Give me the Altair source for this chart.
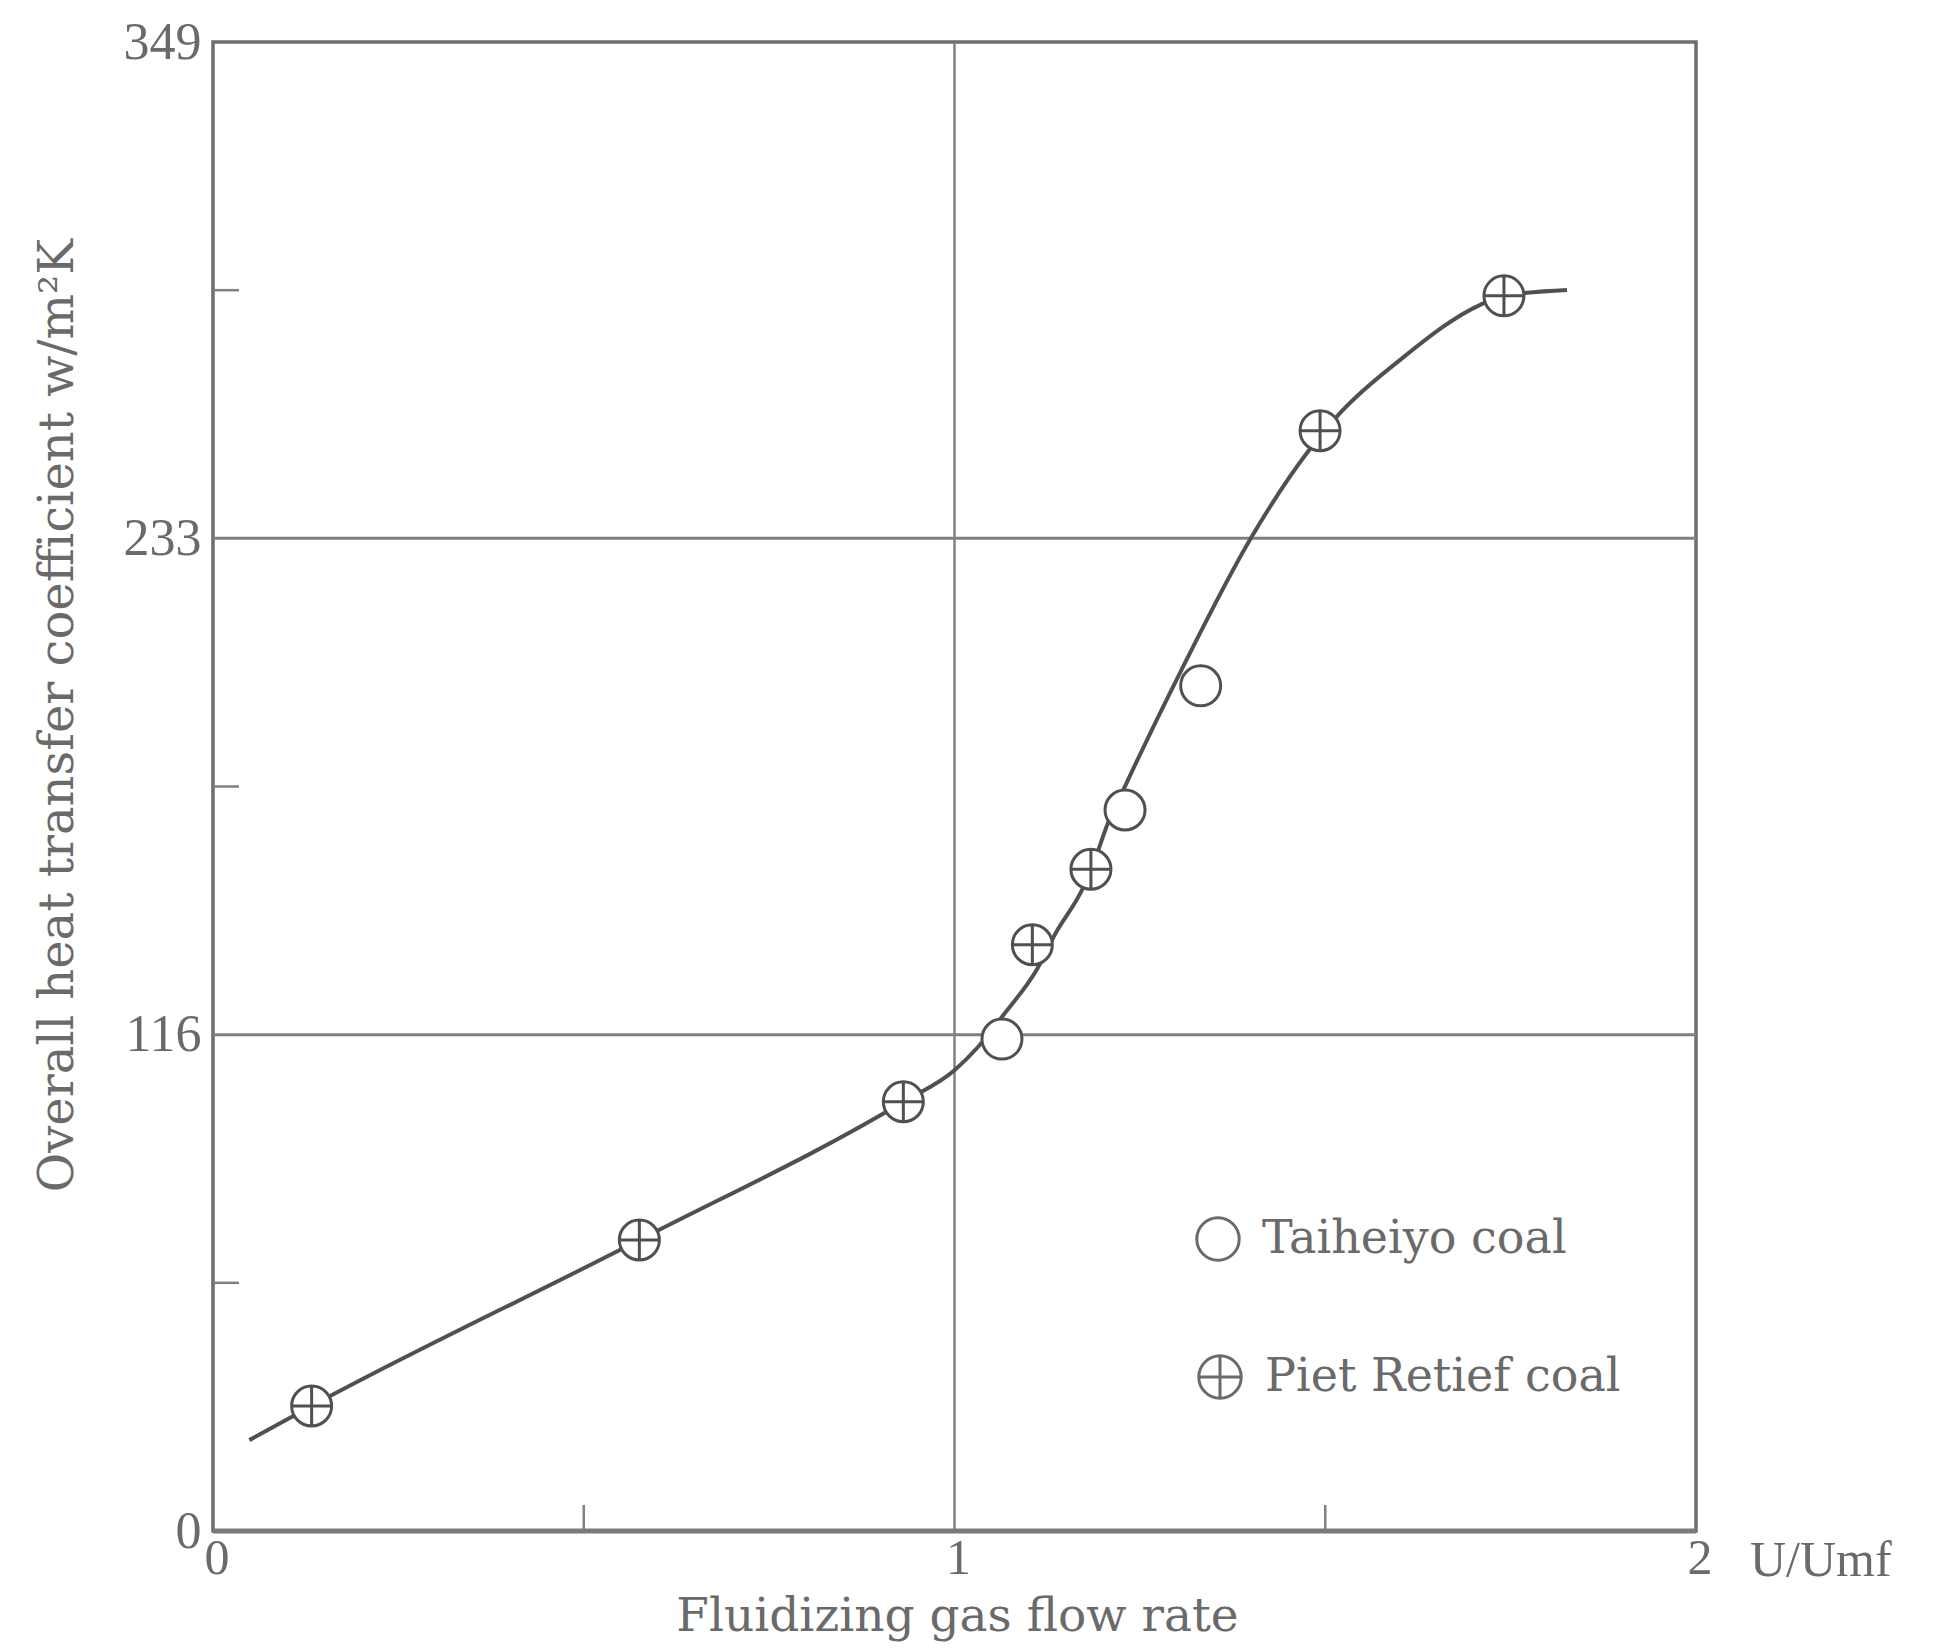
import altair as alt
import pandas as pd

# Data
taiheiyo_x = [1.064, 1.230, 1.332]
taiheiyo_y = [115.3, 169.0, 198.1]
piet_x = [0.133, 0.575, 0.931, 1.105, 1.184, 1.493, 1.741]
piet_y = [29.3, 68.2, 100.6, 137.4, 155.1, 257.9, 289.5]
curve_x = [0.049, 0.133, 0.575, 0.931, 1.000, 1.032, 1.068, 1.110, 1.136, 1.174, 1.194, 1.205,
           1.232, 1.306, 1.401, 1.475, 1.522, 1.601, 1.709, 1.741, 1.826]
curve_y = [21.3, 29.3, 68.2, 100.6, 108.0, 113.5, 121.4, 131.3, 140.0, 151.0, 159.6, 165.1,
           175.3, 201.8, 233.1, 252.6, 262.4, 274.5, 287.4, 289.5, 290.9]
y_major = [0, 116.33, 232.67, 349]
y_minor = [58.17, 174.5, 290.83]
x_labels = [0, 1, 2]
x_label_text = ["0", "1", "2"]
x_minor = [0.5, 1.5]
h_grid = [116.33, 232.67]
v_grid = [1]
legend_names = ["Taiheiyo coal", "Piet Retief coal"]

GRAY = "#6a6a6a"
LINE = "#505050"
GRID = "#808080"
FONT = "Liberation Serif"
TFONT = "DejaVu Serif"
W, H = 1483, 1489

ring = "M -1 0 A 1 1 0 1 1 1 0 A 1 1 0 1 1 -1 0 Z"
ring_cross = ring + " M -1 0 L 1 0 M 0 -1 L 0 1"

taiheiyo = pd.DataFrame({"x": taiheiyo_x, "y": taiheiyo_y})
piet = pd.DataFrame({"x": piet_x, "y": piet_y})
curve = pd.DataFrame({"x": curve_x, "y": curve_y})

xs = alt.Scale(domain=[0, 2], nice=False, zero=False)
ys = alt.Scale(domain=[0, 349], nice=False, zero=False)

xaxis = alt.Axis(values=x_labels, ticks=False, domain=False, grid=False, labels=False,
                 title="Fluidizing gas flow rate", titleFont=TFONT, titleFontSize=47,
                 titleFontWeight="normal", titleColor=GRAY,
                 titleX=744, titleY=99, titleBaseline="alphabetic", titleAlign="center")
yaxis = alt.Axis(values=y_major, ticks=False, domain=False, grid=False,
                 labelOverlap=False,
                 labelExpr="format(round(datum.value), 'd')",
                 labelFont=FONT, labelFontSize=52, labelColor=GRAY, labelPadding=12,
                 labelFlush=False,
                 title="Overall heat transfer coefficient  w/m²K", titleFont=TFONT,
                 titleFontSize=48, titleFontWeight="normal", titleColor=GRAY,
                 titleX=-155, titleY=673, titleBaseline="middle", titleAlign="center",
                 titleAngle=270)

hgrid = alt.Chart(pd.DataFrame({"y": h_grid})).mark_rule(color=GRID, strokeWidth=3).encode(
    y=alt.Y("y:Q", scale=ys, axis=yaxis))
vgrid = alt.Chart(pd.DataFrame({"x": v_grid})).mark_rule(color=GRID, strokeWidth=2.5).encode(
    x=alt.X("x:Q", scale=xs, axis=xaxis))
ytick = alt.Chart(pd.DataFrame({"y": y_minor})).mark_rule(color=GRID, strokeWidth=2.5).encode(
    y=alt.Y("y:Q", scale=ys), x=alt.value(0), x2=alt.value(26))
xtick = alt.Chart(pd.DataFrame({"x": x_minor})).mark_rule(color=GRID, strokeWidth=2.5).encode(
    x=alt.X("x:Q", scale=xs), y=alt.value(H), y2=alt.value(H - 26))
bottom = alt.Chart(pd.DataFrame({"y": [0]})).mark_rule(color="#7a7a7a", strokeWidth=5).encode(
    y=alt.Y("y:Q", scale=ys))

xlab = alt.Chart(pd.DataFrame({"x": x_labels, "t": x_label_text})).mark_text(
    align="center", baseline="middle", font=FONT, fontSize=50, color=GRAY, dx=4
).encode(x=alt.X("x:Q", scale=xs), y=alt.value(H + 28), text="t:N")

line = alt.Chart(curve).mark_line(color=LINE, strokeWidth=4, interpolate="monotone").encode(
    x=alt.X("x:Q", scale=xs), y=alt.Y("y:Q", scale=ys))

def markers(df, shape):
    return alt.Chart(df).mark_point(shape=shape, filled=False, fill="white", fillOpacity=1,
                                    size=1600, strokeWidth=3, color=LINE, opacity=1).encode(
        x=alt.X("x:Q", scale=xs), y=alt.Y("y:Q", scale=ys))

pts_t = markers(taiheiyo, ring)
pts_p = markers(piet, ring_cross)

# legend (drawn inside the plot, as in the original)
def leg_sym(name, shape, px, py):
    return alt.Chart(pd.DataFrame({"n": [name]})).mark_point(
        shape=shape, filled=False, fill="white", fillOpacity=1, size=1800,
        strokeWidth=3, color=GRAY, opacity=1).encode(x=alt.value(px), y=alt.value(py))

def leg_txt(name, px, py):
    return alt.Chart(pd.DataFrame({"n": [name]})).mark_text(
        align="left", baseline="middle", font=TFONT, fontSize=46, color=GRAY).encode(
        x=alt.value(px), y=alt.value(py), text="n:N")

legend = [
    leg_sym(legend_names[0], ring, 1005, 1197),
    leg_txt(legend_names[0], 1049, 1197),
    leg_sym(legend_names[1], ring_cross, 1007, 1335),
    leg_txt(legend_names[1], 1052, 1335),
]

unit = alt.Chart(pd.DataFrame({"x": [2], "y": [0], "t": ["U/Umf"]})).mark_text(
    align="left", baseline="middle", dx=54, dy=30, font=FONT, fontSize=50, color=GRAY
).encode(x=alt.X("x:Q", scale=xs), y=alt.Y("y:Q", scale=ys), text="t:N")

chart = alt.layer(hgrid, vgrid, ytick, xtick, bottom, xlab, line, pts_t, pts_p, *legend, unit).properties(
    width=W, height=H,
    background="white",
    autosize=alt.AutoSizeParams(type="none"),
    padding={"left": 205, "top": 34, "right": 240, "bottom": 111},
).configure_view(stroke="#6e6e6e", strokeWidth=3.5)

chart.save("out.html", embed_options={"renderer": "svg", "actions": False})
